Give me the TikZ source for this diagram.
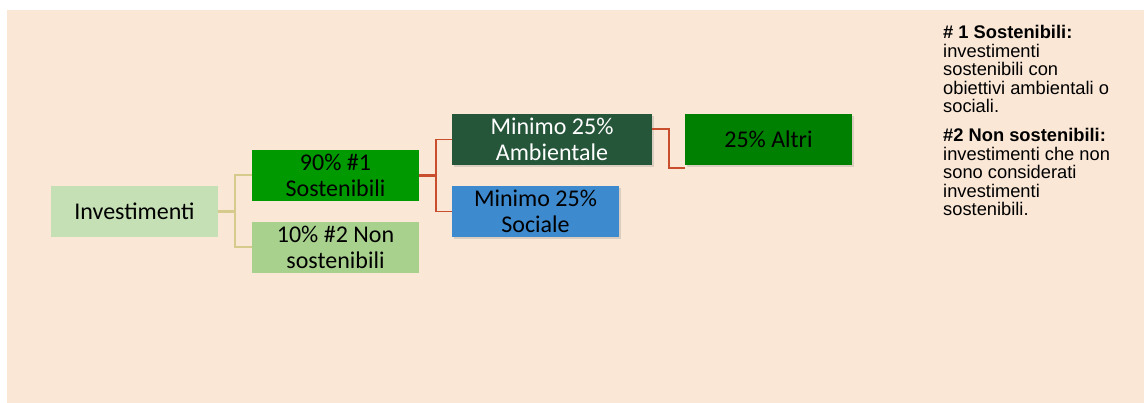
\documentclass[tikz,border=0pt]{standalone}
\usepackage{fontspec}
\setmainfont{Carlito}
\newfontfamily\legfont{Liberation Sans}
\usepackage{tikz}
\usepackage{xcolor}
\usetikzlibrary{calc, shadows}
\definecolor{cPeach}{RGB}{250,231,214}
\definecolor{cPale}{RGB}{197,224,180}
\definecolor{cGreen}{RGB}{0,153,0}
\definecolor{cLight}{RGB}{169,209,142}
\definecolor{cDark}{RGB}{38,86,58}
\definecolor{cBlue}{RGB}{62,138,207}
\definecolor{cAltri}{RGB}{0,128,0}
\definecolor{cTan}{RGB}{214,202,140}
\definecolor{cRust}{RGB}{200,78,45}
\tikzset{
	box/.style      ={rectangle, minimum width=167pt, minimum height=51pt, inner sep=0pt, align=center, text centered, font=\fontsize{24}{26}\selectfont},
	shade/.style    ={drop shadow={shadow xshift=1.5pt, shadow yshift=-2.5pt, opacity=0.25}},
	tanline/.style  ={cTan, line width=2pt},
	tanthick/.style ={cTan, line width=3.5pt},
	rustline/.style ={cRust, line width=1.8pt},
	rustthick/.style={cRust, line width=3.5pt},
	legend/.style   ={anchor=north west, inner sep=0pt, align=left, font=\legfont\fontsize{18.3}{18.6}\selectfont},
}
\begin{document}
\begin{tikzpicture}[x=1pt, y=-1pt]
	\useasboundingbox (0,0) rectangle (1144,403);
	\fill[cPeach] (7,10) rectangle (1144,403);
	% boxes
	\node[box, fill=cPale] (inv) at (134.5,211.5) {Investimenti};
	\node[box, fill=cGreen] (sost) at (335.5,175.5) {90\% \#1\\Sostenibili};
	\node[box, fill=cLight] (nonsost) at (335.5,247.5) {10\% \#2 Non\\sostenibili};
	\node[box, shade, fill=cDark, text=white, minimum width=200pt] (amb) at (552,139.5) {Minimo 25\%\\Ambientale};
	\node[box, shade, fill=cBlue] (soc) at (535.5,211.5) {Minimo 25\%\\Sociale};
	\node[box, shade, fill=cAltri] (altri) at (768.5,139.5) {25\% Altri};
	% connectors
	\coordinate (tj) at (235,211.5);
	\coordinate (rj) at (436,175.5);
	\coordinate (ka) at ($(amb.north east)!0.29!(amb.south east)$);
	\coordinate (kb) at ($(altri.north west)!1.05!(altri.south west)$);
	\draw[tanthick] (inv.east) -- (tj);
	\draw[tanline] (sost.west) -| (tj) |- (nonsost.west);
	\draw[rustthick] (sost.east) -- (rj);
	\draw[rustline] (amb.west) -| (rj) |- (soc.west);
	\draw[rustline] (ka) -- ++(17,0) |- (kb);
	% legend
	\node[legend] (leg1) at (943,25) {\textbf{\# 1 Sostenibili:}\\investimenti\\sostenibili con\\obiettivi ambientali o\\sociali.};
	\node[legend] (leg2) at (943,128) {\textbf{\#2 Non sostenibili:}\\investimenti che non\\sono considerati\\investimenti\\sostenibili.};
\end{tikzpicture}
\end{document}
